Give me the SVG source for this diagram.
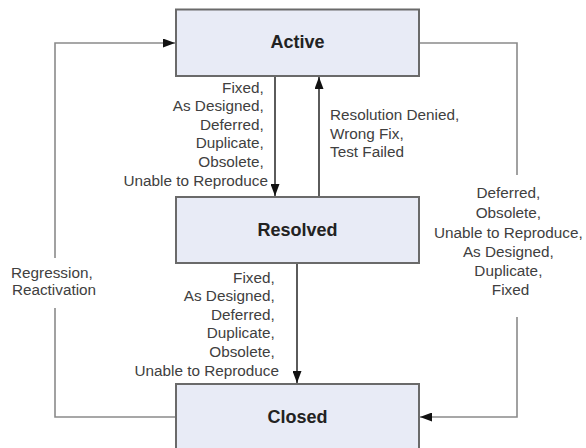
<svg xmlns="http://www.w3.org/2000/svg" width="586" height="448" viewBox="0 0 586 448">
  <defs>
    <marker id="arrow" viewBox="0 0 12 9" refX="12" refY="4.5" markerWidth="12" markerHeight="9" markerUnits="userSpaceOnUse" orient="auto">
      <path d="M0,0 L12,4.5 L0,9 Z" fill="#111"/>
    </marker>
    <style>
      .node rect { fill: #e8ebf6; stroke: #6a6a6a; stroke-width: 2; }
      .node text { font-family: "Liberation Sans", Arial, sans-serif; font-size: 18px; font-weight: bold; fill: #222; text-anchor: middle; }
      .edge { fill: none; stroke-width: 1.6; }
      .main { stroke: #333; }
      .loop { stroke: #8a8a8a; }
      .lbl { font-family: "Liberation Sans", Arial, sans-serif; font-size: 15.3px; fill: #404040; }
    </style>
  </defs>
  <rect width="586" height="448" fill="#ffffff"/>

  <g id="connectors">
    <!-- Active to Resolved -->
    <line class="edge main" x1="275" y1="77" x2="275" y2="196" marker-end="url(#arrow)"/>
    <!-- Resolved back to Active -->
    <line class="edge main" x1="319" y1="196" x2="319" y2="77" marker-end="url(#arrow)"/>
    <!-- Resolved to Closed -->
    <line class="edge main" x1="297" y1="264" x2="297" y2="383" marker-end="url(#arrow)"/>
    <!-- Closed back to Active (left loop, broken around its label) -->
    <polyline class="edge loop" points="175,417 55,417 55,308"/>
    <polyline class="edge loop" points="55,258 55,43 175,43" marker-end="url(#arrow)"/>
    <!-- Active straight to Closed (right loop, broken around its label) -->
    <polyline class="edge loop" points="420,43 517,43 517,175"/>
    <polyline class="edge loop" points="517,317 517,417 420,417" marker-end="url(#arrow)"/>

    <text class="lbl" text-anchor="end">
      <tspan x="268" y="92.5">Fixed,</tspan>
      <tspan x="268" y="111">As Designed,</tspan>
      <tspan x="268" y="129.7">Deferred,</tspan>
      <tspan x="268" y="148.3">Duplicate,</tspan>
      <tspan x="268" y="167">Obsolete,</tspan>
      <tspan x="268" y="185.5">Unable to Reproduce</tspan>
    </text>
    <text class="lbl">
      <tspan x="330" y="119.5">Resolution Denied,</tspan>
      <tspan x="330" y="138.5">Wrong Fix,</tspan>
      <tspan x="330" y="157">Test Failed</tspan>
    </text>
    <text class="lbl" text-anchor="end">
      <tspan x="279" y="282.8">Fixed,</tspan>
      <tspan x="279" y="301.2">As Designed,</tspan>
      <tspan x="279" y="319.5">Deferred,</tspan>
      <tspan x="279" y="337.8">Duplicate,</tspan>
      <tspan x="279" y="356.5">Obsolete,</tspan>
      <tspan x="279" y="375.5">Unable to Reproduce</tspan>
    </text>
    <text class="lbl" text-anchor="middle">
      <tspan x="54" y="277.5">Regression,</tspan>
      <tspan x="54" y="295">Reactivation</tspan>
    </text>
    <text class="lbl" text-anchor="middle">
      <tspan x="510.5" y="198">Deferred,</tspan>
      <tspan x="510.5" y="218">Obsolete,</tspan>
      <tspan x="510.5" y="238">Unable to Reproduce,</tspan>
      <tspan x="510.5" y="256.5">As Designed,</tspan>
      <tspan x="510.5" y="275.5">Duplicate,</tspan>
      <tspan x="510.5" y="294.5">Fixed</tspan>
    </text>
  </g>

  <g id="active" class="node">
    <rect x="176" y="9.5" width="243" height="66.5"/>
    <text x="297.5" y="48">Active</text>
  </g>
  <g id="resolved" class="node">
    <rect x="176" y="197" width="243" height="66"/>
    <text x="297.5" y="236">Resolved</text>
  </g>
  <g id="closed" class="node">
    <rect x="176" y="384" width="243" height="66"/>
    <text x="297.5" y="422.5">Closed</text>
  </g>
</svg>
